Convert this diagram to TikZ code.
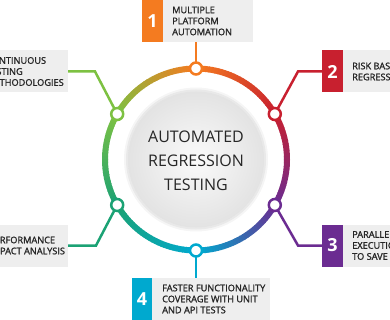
\documentclass[tikz,border=0pt]{standalone}
\usepackage{fontspec}
\setmainfont{Open Sans}
\newfontfamily\semib[FakeBold=1.5]{Open Sans}
\definecolor{cOr}{HTML}{F47B20}
\definecolor{cRd}{HTML}{C8202F}
\definecolor{cPu}{HTML}{6B2C91}
\definecolor{cCy}{HTML}{00A9CF}
\definecolor{cTe}{HTML}{1BA274}
\definecolor{cGr}{HTML}{7DC142}
\definecolor{boxgrey}{HTML}{EEEEEE}
\definecolor{txt}{HTML}{262626}
\tikzset{
 gbox/.style={fill=boxgrey, inner sep=0pt, minimum height=42pt},
 numsq/.style={minimum width=21pt, minimum height=42pt, inner sep=0pt, text=white, font=\fontsize{18}{18}\selectfont\bfseries},
 btext/.style={font=\semib\fontsize{9.2}{11}\selectfont, text=txt, align=left, anchor=west, inner sep=0pt},
 dot/.style={circle, fill=white, line width=2.5pt, minimum size=12pt, inner sep=0pt},
 conn/.style={line width=2.5pt},
}
\begin{document}
\begin{tikzpicture}[x=1pt,y=-1pt]
\useasboundingbox (0,0) rectangle (390,320);
\clip (0,0) rectangle (390,320);
\coordinate (O) at (196,159.5);
% boxes
\node[numsq, fill=cOr] (s1) at (152.5,21) {1};
\node[gbox, minimum width=90pt, anchor=west] (b1) at (163,21) {};
\node[btext] (t1) at (172,21) {MULTIPLE\\PLATFORM\\AUTOMATION};
\node[numsq, fill=cRd] (s2) at (332.5,71.5) {2};
\node[gbox, minimum width=60pt, anchor=west] (b2) at (343,71.5) {};
\node[btext] (t2) at (352,71.5) {RISK BASED\\REGRESSION};
\node[numsq, fill=cPu] (s3) at (332.5,245.5) {3};
\node[gbox, minimum width=60pt, anchor=west] (b3) at (343,245.5) {};
\node[btext] (t3) at (352,245.5) {PARALLEL\\EXECUTION\\TO SAVE TIME};
\node[numsq, fill=cCy, minimum width=20pt] (s4) at (142,299) {4};
\node[gbox, minimum width=118pt, anchor=west] (b4) at (152,299) {};
\node[btext] (t4) at (162,299) {FASTER FUNCTIONALITY\\COVERAGE WITH UNIT\\AND API TESTS};
\node[gbox, minimum width=100pt, anchor=east] (b5) at (68,245.5) {};
\node[btext] (t5) at (-11,245.5) {PERFORMANCE\\IMPACT ANALYSIS};
\node[gbox, minimum width=100pt, anchor=east] (b6) at (68,71.5) {};
\node[btext] (t6) at (-14,71.5) {CONTINUOUS\\TESTING\\METHODOLOGIES};
% inner circle
\fill[black, opacity=0.04] (O) circle (72pt);
\fill[black, opacity=0.05] (O) circle (70pt);
\shade[inner color=white!98!black, outer color=white!89!black] (O) circle (68pt);
\node[font=\fontsize{16}{24}\selectfont, text=txt, align=center] (title) at ([yshift=-1pt]O) {AUTOMATED\\REGRESSION\\TESTING};
% ring
\foreach \sa/\ca/\cb in {90/cOr/cRd, 30/cRd/cPu, -30/cPu/cCy, -90/cCy/cTe, -150/cTe/cGr, 150/cGr/cOr}{
  \foreach \i in {0,...,29}{
    \pgfmathtruncatemacro\p{100-\i*100/29}
    \pgfmathsetmacro\a{\sa-\i*2}
    \draw[line width=6pt, color=\ca!\p!\cb] (O) ++(\a:91pt) arc[start angle=\a, end angle=\a-2.4, radius=91pt];
  }
}
% circle positions
\coordinate (p1) at ([shift={(90:91pt)}]O);
\coordinate (p2) at ([shift={(30:91pt)}]O);
\coordinate (p3) at ([shift={(-30:91pt)}]O);
\coordinate (p4) at ([shift={(-90:91pt)}]O);
\coordinate (p5) at ([shift={(-150:91pt)}]O);
\coordinate (p6) at ([shift={(150:91pt)}]O);
\coordinate (e2) at (298,71.5);
\coordinate (e3) at (298,245.5);
\coordinate (e5) at (96,245.5);
\coordinate (e6) at (95,71.5);
% connectors
\draw[conn, cOr] (p1) -- (p1 |- b1.south);
\draw[conn, cRd] (p2) -- (e2) -- (s2.west);
\draw[conn, cPu] (p3) -- (e3) -- (s3.west);
\draw[conn, cCy] (p4) -- (p4 |- b4.north);
\draw[conn, cTe] (p5) -- (e5) -- (b5.east);
\draw[conn, cGr] (p6) -- (e6) -- (b6.east);
% dots
\node[dot, draw=cOr] (c1) at (p1) {};
\node[dot, draw=cRd] (c2) at (p2) {};
\node[dot, draw=cPu] (c3) at (p3) {};
\node[dot, draw=cCy] (c4) at (p4) {};
\node[dot, draw=cTe] (c5) at (p5) {};
\node[dot, draw=cGr] (c6) at (p6) {};
\end{tikzpicture}
\end{document}
